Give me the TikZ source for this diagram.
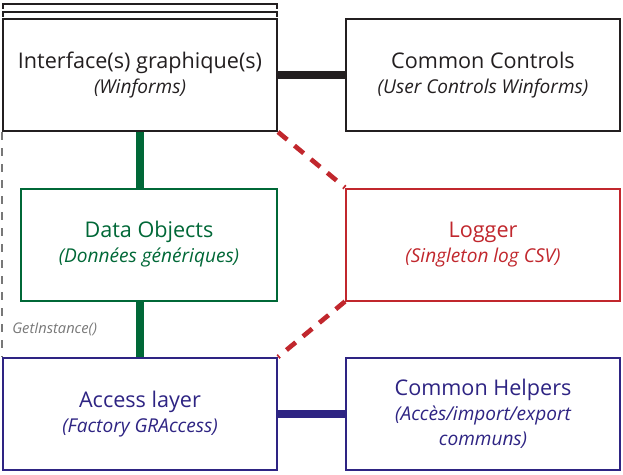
\documentclass[tikz,border=0pt]{standalone}
\usepackage{fontspec}
\setmainfont{Open Sans}
\definecolor{uiblack}{RGB}{35,31,32}
\definecolor{dogreen}{RGB}{0,104,55}
\definecolor{logred}{RGB}{193,39,45}
\definecolor{accviolet}{RGB}{46,36,131}
\definecolor{hintgray}{RGB}{120,120,120}
\newcommand{\subline}{\fontsize{14.3}{18.75}\selectfont\itshape}
\begin{document}
\begin{tikzpicture}[x=0.75pt,y=-0.75pt]
	\tikzset{layer/.style={draw=#1,text=#1,line width=1.5pt,fill=white,minimum width=205.5pt,minimum height=84pt,align=center,inner sep=0pt,font=\fontsize{16.2}{18.75}\selectfont},
		link/.style={line width=5.3pt},
		uses/.style={line width=3.5pt,dash pattern=on 9pt off 7pt}}
	\useasboundingbox (0,0) rectangle (623,474);

	    % frames behind the gui box
	    \draw[uiblack,line width=1.5pt] (3,9) -- (3,4) -- (277,4) -- (277,9);
	    \draw[uiblack,line width=1.5pt] (3,17) -- (3,12) -- (277,12) -- (277,17);

	    \node[layer=uiblack] (gui) at (140,75) {Interface(s) graphique(s)\\{\subline (Winforms)}};
	    \node[layer=uiblack] (ctrl) at (483,75) {Common Controls\\{\subline (User Controls Winforms)}};
	    \node[layer=dogreen,minimum width=192pt] (data) at (149,244.5) {Data Objects\\{\subline (Données génériques)}};
	    \node[layer=logred] (log) at (483,244.5) {Logger\\{\subline (Singleton log CSV)}};
	    \node[layer=accviolet] (acc) at (140,414) {Access layer\\{\subline (Factory GRAccess)}};
	    \node[layer=accviolet] (help) at (483,414) {Common Helpers\\{\subline (Accès/import/export}\\{\subline communs)}};

	    \draw[link,uiblack] (gui.east) -- (ctrl.west);
	    \draw[link,dogreen] (gui.south) -- (gui.south |- data.north);
	    \draw[link,dogreen] (acc.north |- data.south) -- (acc.north);
	    \draw[link,accviolet] (acc.east) -- (help.west);
	    \draw[uses,logred] (gui.south east) -- (log.north west);
	    \draw[uses,logred] (log.south west) -- (acc.north east);

	    \draw[hintgray,line width=1.2pt,dash pattern=on 6pt off 6pt] (gui.south west) -- (acc.north west);
	    \node[hintgray,anchor=west,inner sep=0pt,font=\fontsize{11}{13}\selectfont\itshape] (hint) at (12,329) {GetInstance()};

\end{tikzpicture}
\end{document}
